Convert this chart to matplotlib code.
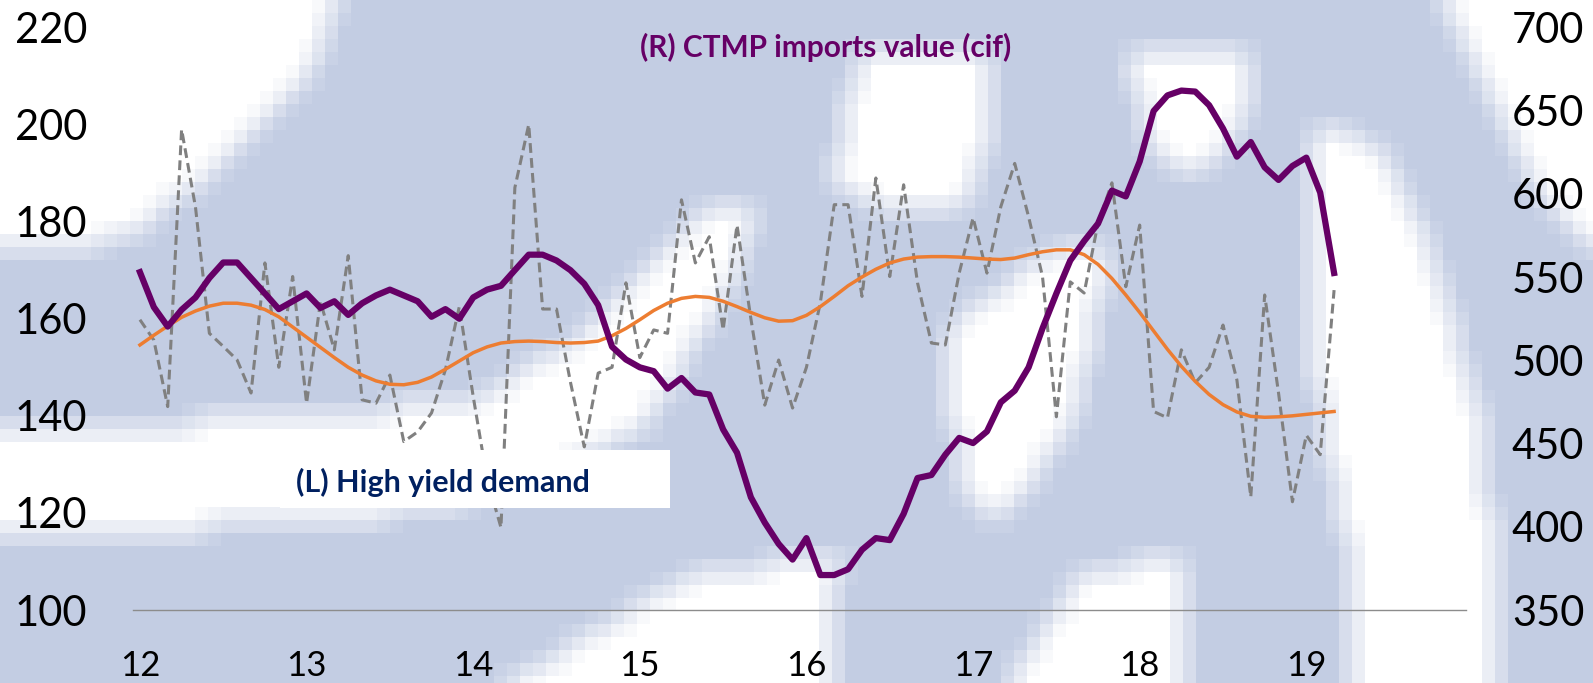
import matplotlib
matplotlib.use("Agg")
import matplotlib.pyplot as plt
from matplotlib.patches import Rectangle
from matplotlib.path import Path
import numpy as np

# Monthly data, Jan 2012 .. Mar 2019
tick_labels = ["12", "13", "14", "15", "16", "17", "18", "19"]

# (R) CTMP imports value (cif) - right axis
ctmp_imports = [553, 532, 520.3, 530.4, 537.8, 549.5, 558.8, 558.8, 549.5, 540.2,
                530.8, 535.5, 540.2, 531.5, 535.5, 527.3, 534.3, 539, 542.5, 539,
                535.5, 526.2, 530.8, 525, 537.8, 542.5, 544.8, 554.2, 563.5, 563.5,
                560, 554.2, 546, 533.2, 508.2, 500.5, 495.8, 493.5, 483, 489.4,
                480.7, 479.5, 458.5, 444.5, 417.7, 402.5, 389.7, 380.3, 393.2, 371,
                371, 374.5, 386.2, 393.2, 392, 407.8, 429.3, 431.1, 443.3, 453.4,
                450.3, 457.3, 474.8, 481.8, 495.8, 519.2, 540.2, 560, 571.7, 582.2,
                602, 598.5, 619.5, 649.8, 659.2, 662.1, 661.5, 653.3, 639.3, 622.4,
                631.2, 616, 608.4, 616.8, 621.8, 600.8, 552.5]

# (L) High yield demand - left axis, monthly (grey dashed)
hy_demand = [159.8, 155.6, 141.9, 199.0, 183.0, 157.0, 154.3, 151.5, 144.7, 171.5,
             150.0, 168.7, 142.6, 163.5, 153.6, 173.0, 143.3, 142.6, 148.4, 134.7,
             136.7, 140.6, 149.5, 162.5, 144.0, 127.0, 117.0, 187.0, 200.0, 162.0,
             162.0, 147.0, 133.6, 148.8, 150.0, 167.4, 152.0, 157.7, 157.0, 184.5,
             171.5, 176.9, 157.7, 179.3, 160.0, 142.2, 151.5, 141.6, 150.0, 163.3,
             183.5, 183.5, 164.6, 189.0, 168.7, 187.6, 167.4, 155.0, 154.6, 169.4,
             180.8, 169.4, 183.1, 192.0, 181.0, 168.7, 139.8, 167.6, 165.3, 179.7,
             188.0, 166.6, 179.3, 140.9, 139.6, 153.6, 146.8, 150.0, 158.7, 147.4,
             123.3, 164.9, 144.7, 122.3, 136.0, 132.0, 165.9]

# (L) High yield demand - smoothed trend (orange)
hy_trend = [154.6, 156.6, 158.5, 160.3, 161.6, 162.6, 163.2, 163.2, 162.8, 161.9,
            160.4, 158.3, 156.2, 154.1, 152.0, 150.0, 148.4, 147.2, 146.5, 146.4,
            146.9, 148.0, 149.6, 151.3, 153.0, 154.2, 155.0, 155.3, 155.4, 155.3,
            155.1, 155.0, 155.1, 155.4, 156.5, 158.0, 159.8, 161.7, 163.2, 164.2,
            164.6, 164.4, 163.6, 162.5, 161.3, 160.2, 159.5, 159.6, 160.7, 162.5,
            164.6, 166.8, 168.6, 170.2, 171.5, 172.3, 172.7, 172.8, 172.8, 172.7,
            172.5, 172.3, 172.2, 172.5, 173.2, 173.8, 174.2, 174.2, 173.2, 171.2,
            168.3, 164.9, 161.3, 157.5, 153.7, 150.2, 147.1, 144.4, 142.3, 140.8,
            139.9, 139.7, 139.8, 140.0, 140.3, 140.6, 140.9]

left_ticks = [100, 120, 140, 160, 180, 200, 220]
right_ticks = [350, 400, 450, 500, 550, 600, 650, 700]

# Decorative background watermark (pixel coords of the 1593x683 canvas)
WM_BLUE = np.array([195, 205, 227]) / 255.0
wm_white_shapes = [
    [(0, 0), (340, 0), (300, 90), (200, 180), (120, 240), (0, 244)],
    [(0, 427), (300, 420), (480, 400), (600, 323), (700, 213), (760, 213),
     (720, 300), (650, 420), (560, 470), (450, 505), (300, 525), (0, 530)],
    [(860, 50), (980, 50), (995, 120), (965, 200), (900, 215), (835, 180)],
    [(1130, 55), (1250, 55), (1240, 130), (1190, 175), (1150, 140)],
    [(1060, 245), (1110, 255), (1070, 430), (1000, 520), (960, 480), (945, 330)],
    [(700, 570), (840, 560), (830, 683), (510, 683)],
    [(1083, 570), (1184, 560), (1184, 683), (1012, 683)],
    [(1320, 120), (1380, 150), (1430, 250), (1483, 430), (1500, 683), (1352, 683),
     (1352, 560), (1320, 400), (1310, 200)],
    [(1440, 0), (1593, 0), (1593, 250), (1545, 200)],
]
WM_CELL = 13

FONT = "Lato"
plt.rcParams["font.family"] = [FONT, "DejaVu Sans"]

W, H = 1593, 683
fig = plt.figure(figsize=(W / 100, H / 100), dpi=100)

# pixelated, soft-edged watermark raster
nx, ny = int(np.ceil(W / WM_CELL)), int(np.ceil(H / WM_CELL))
cx = (np.arange(nx) + 0.5) * WM_CELL
cy = (np.arange(ny) + 0.5) * WM_CELL
gx, gy = np.meshgrid(cx, cy)
pts = np.column_stack([gx.ravel(), gy.ravel()])
white = np.zeros(len(pts), dtype=bool)
for shp in wm_white_shapes:
    white |= Path(shp).contains_points(pts)
m = white.reshape(ny, nx).astype(float)
mp = np.pad(m, 1, mode="edge")
m = (mp[:-2, :-2] + mp[:-2, 1:-1] + mp[:-2, 2:] + mp[1:-1, :-2] + mp[1:-1, 1:-1]
     + mp[1:-1, 2:] + mp[2:, :-2] + mp[2:, 1:-1] + mp[2:, 2:]) / 9.0
rgb = m[..., None] * 1.0 + (1 - m[..., None]) * WM_BLUE[None, None, :]

bg = fig.add_axes([0, 0, 1, 1], zorder=-5)
bg.imshow(rgb, extent=(0, nx * WM_CELL, ny * WM_CELL, 0), interpolation="nearest",
          aspect="auto")
bg.set_xlim(0, W)
bg.set_ylim(H, 0)
bg.axis("off")

ax = fig.add_axes([133 / W, 73 / H, (1466 - 133) / W, (655.5 - 73) / H])
ax.set_facecolor("none")
ax2 = ax.twinx()

x_main = np.arange(len(hy_demand))
x_r = np.arange(len(ctmp_imports))

ax.plot(x_main, hy_demand, color="#808080", lw=2.2, ls=(0, (3.2, 1.7)), zorder=3)
ax.plot(np.arange(len(hy_trend)), hy_trend, color="#ED7D31", lw=2.5, zorder=4)
ax2.plot(x_r, ctmp_imports, color="#660066", lw=4.5, solid_joinstyle="round", zorder=5)

ax.set_xlim(-0.5, 95.5)
ax.set_ylim(100, 220)
ax2.set_ylim(350, 700)
ax.set_yticks(left_ticks)
ax.set_yticklabels([str(t) for t in left_ticks])
ax2.set_yticks(right_ticks)
ax2.set_yticklabels([str(t) for t in right_ticks])
ax.set_xticks(np.arange(0, 96, 12))
ax.set_xticklabels(tick_labels)

for a in (ax, ax2):
    for s in a.spines.values():
        s.set_visible(False)
ax.spines["bottom"].set_visible(True)
ax.spines["bottom"].set_color("#8c8c8c")
ax.spines["bottom"].set_linewidth(1.0)

ax.tick_params(axis="y", length=0, labelsize=30, pad=33, colors="black")
ax2.tick_params(axis="y", length=0, labelsize=30, pad=33, colors="black")
ax.tick_params(axis="x", length=0, labelsize=25, pad=29, colors="black")

# white box over the lines for the left-axis label
fig.patches.append(Rectangle((280 / W, 1 - 508 / H), 390 / W, 58 / H,
                             transform=fig.transFigure, facecolor="white",
                             edgecolor="none", zorder=1))
fig.text(826 / W, 1 - 47 / H, "(R) CTMP imports value (cif)", color="#660066",
         fontsize=21.5, fontweight="bold", ha="center", va="center")
fig.text(296 / W, 1 - 482 / H, "(L) High yield demand", color="#002060",
         fontsize=22, fontweight="bold", ha="left", va="center", zorder=2)

fig.savefig("out.png", dpi=100)
